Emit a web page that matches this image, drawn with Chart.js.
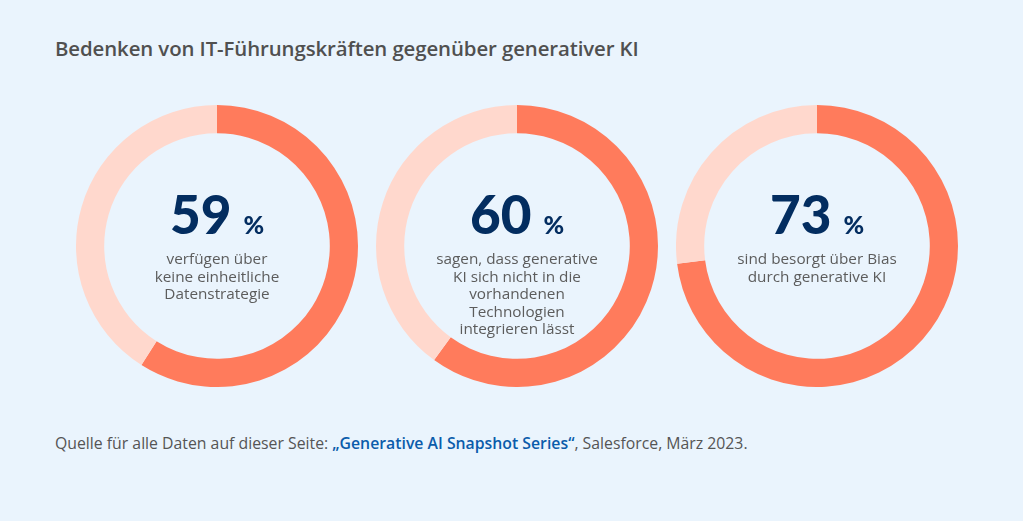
<!DOCTYPE html>
<html lang="de">
<head>
<meta charset="utf-8">
<script src="https://cdn.jsdelivr.net/npm/chart.js@4.4.0/dist/chart.umd.min.js"></script>
<style>
  html, body { margin: 0; padding: 0; }
  body { width: 1023px; height: 521px; background: #eaf4fd; position: relative; overflow: hidden; font-family: "Open Sans", sans-serif; }
  .title { position: absolute; left: 55px; top: 34px; font-size: 20.4px; font-weight: 600; color: #505050; letter-spacing: -0.1px; }
  .donut { position: absolute; width: 282px; height: 282px; }
  .center { position: absolute; width: 220px; text-align: center; }
  .num { font-family: Lato, sans-serif; font-weight: 900; font-size: 53px; color: #032d60; line-height: 52px; }
  .num span { font-size: 25px; margin-left: 12px; }
  .cap { font-size: 15.3px; line-height: 17.6px; color: #5c5c5c; margin-top: 0; }
  .source { position: absolute; left: 55px; top: 432px; font-size: 15.8px; color: #555; }
  .source b { color: #0b5cab; font-weight: 600; }
</style>
</head>
<body>
<div class="title">Bedenken von IT-Führungskräften gegenüber generativer KI</div>
<div id="wrap"></div>
<div class="source">Quelle für alle Daten auf dieser Seite: <b>„Generative AI Snapshot Series“</b>, Salesforce, März 2023.</div>
<script>
// Werte in Prozent
const values = [59, 60, 73];
const captions = [
  ['verfügen über', 'keine einheitliche', 'Datenstrategie'],
  ['sagen, dass generative', 'KI sich nicht in die', 'vorhandenen', 'Technologien', 'integrieren lässt'],
  ['sind besorgt über Bias', 'durch generative KI']
];
const segLabels = ['Ja', 'Rest'];

const centersX = [217, 517, 817];
const centerY = 246;
const wrap = document.getElementById('wrap');

values.forEach((v, i) => {
  const box = document.createElement('div');
  box.className = 'donut';
  box.style.left = (centersX[i] - 141) + 'px';
  box.style.top = (centerY - 141) + 'px';
  const cv = document.createElement('canvas');
  box.appendChild(cv);
  wrap.appendChild(box);

  new Chart(cv.getContext('2d'), {
    type: 'doughnut',
    data: {
      labels: segLabels,
      datasets: [{
        data: [v, 100 - v],
        backgroundColor: ['#ff7b5c', '#ffd8cd'],
        borderWidth: 0
      }]
    },
    options: {
      responsive: true,
      maintainAspectRatio: false,
      animation: false,
      cutout: '80%',
      layout: { padding: 0 },
      plugins: { legend: { display: false }, tooltip: { enabled: false } }
    }
  });

  const c = document.createElement('div');
  c.className = 'center';
  c.style.left = (centersX[i] - 110) + 'px';
  c.style.top = '188px';
  c.innerHTML = '<div class="num">' + v + '<span>%</span></div>' +
    '<div class="cap">' + captions[i].join('<br>') + '</div>';
  wrap.appendChild(c);
});
</script>
</body>
</html>
